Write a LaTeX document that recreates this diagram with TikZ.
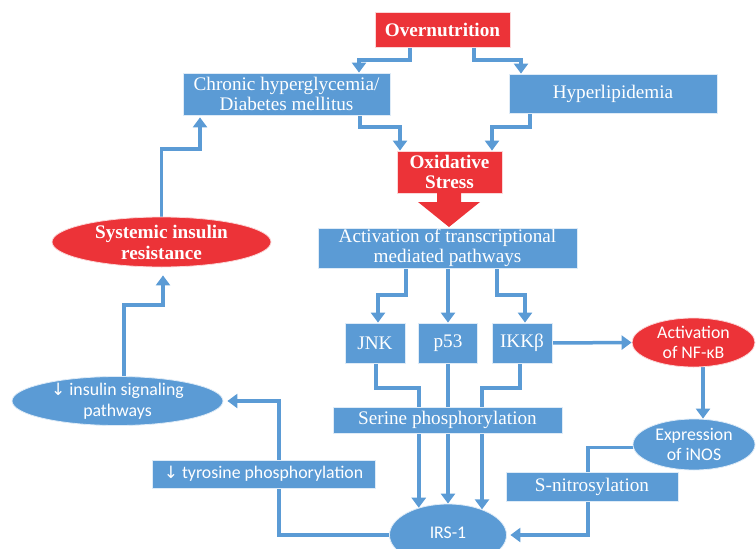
\documentclass[tikz,border=0pt]{standalone}
\usepackage{fontspec}
\setmainfont{Liberation Serif}
\newfontfamily\sansf{Carlito}
\newfontfamily\arrf{DejaVu Sans}
\usetikzlibrary{shapes.geometric,arrows.meta,calc,backgrounds}
\definecolor{bl}{HTML}{5B9BD5}
\definecolor{rd}{HTML}{EC3338}
\newcommand{\dnarr}{{\arrf\fontsize{17}{17}\selectfont ↓}}
\begin{document}
\begin{tikzpicture}[x=1pt,y=-1pt,
  box/.style={rectangle, fill=bl, draw=white!80!bl, line width=0.8pt, text=white,
    inner sep=0pt, align=center, font=\fontsize{19.2}{19.5}\selectfont},
  rbox/.style={box, fill=rd, draw=white!80!rd, font=\bfseries\fontsize{19.2}{20.7}\selectfont},
  ell/.style={ellipse, fill=bl, draw=white!80!bl, line width=0.8pt, inner sep=0pt},
  rell/.style={ell, fill=rd, draw=white!80!rd},
  elltxt/.style={text=white, align=center, inner sep=0pt, font=\sansf\fontsize{17.8}{20.7}\selectfont},
  relltxt/.style={text=white, align=center, inner sep=0pt, font=\bfseries\fontsize{19.2}{21}\selectfont},
  arr/.style={draw=bl, line width=3.5pt, -{Triangle[width=14pt,length=10pt]}}]
\useasboundingbox (0,0) rectangle (756,549);
\clip (0,0) rectangle (756,549);

% nodes
\node[rbox, minimum width=135pt, minimum height=35pt] (ov) at (442.5,29.5) {Overnutrition};
\node[box, minimum width=207pt, minimum height=42pt] (ch) at (286.5,94) {Chronic hyperglycemia/\\Diabetes mellitus};
\node[box, minimum width=208pt, minimum height=39pt] (hy) at (613,93.5) {Hyperlipidemia};
\node[rbox, minimum width=105pt, minimum height=42pt] (ox) at (449.5,172) {Oxidative\\Stress};
\node[box, minimum width=259pt, minimum height=40pt] (ac) at (447.5,248) {Activation of transcriptional\\mediated pathways};
\node[box, minimum width=60pt, minimum height=40pt] (jnk) at (375,343) {JNK};
\node[box, minimum width=59pt, minimum height=40pt] (p53) at (448,343) {p53};
\node[box, minimum width=60pt, minimum height=40pt] (ikk) at (522,343) {IKKβ};
\node[rell, minimum width=123pt, minimum height=49pt,
  label={[elltxt]center:{Activation\\of NF-κB}}] (nf) at (693.5,342.5) {};
\node[box, minimum width=229pt, minimum height=26pt] (se) at (447.5,420) {Serine phosphorylation};
\node[ell, minimum width=122pt, minimum height=51pt,
  label={[elltxt]center:{Expression\\of iNOS}}] (inos) at (694,444.5) {};
\node[box, minimum width=172pt, minimum height=29pt] (sn) at (592,486.5) {S-nitrosylation};
\node[ell, minimum width=117pt, minimum height=62pt,
  label={[elltxt, yshift=2pt]center:{IRS-1}}] (irs) at (448,535) {};
\node[box, font=\sansf\fontsize{17.8}{19}\selectfont, minimum width=223pt, minimum height=28pt] (ty) at (263.5,474) {\dnarr\ tyrosine phosphorylation};
\node[ell, minimum width=211pt, minimum height=49pt,
  label={[elltxt]center:{\dnarr\ insulin signaling\\pathways}}] (ins) at (117.5,401) {};
\node[rell, minimum width=219pt, minimum height=50pt,
  label={[relltxt]center:{Systemic insulin\\resistance}}] (sys) at (161.5,242) {};

% big red arrow
\fill[rd] (437,193) -- (461,193) -- (461,202) -- (480,202) -- (449,227) -- (418,202) -- (437,202) -- cycle;

% connectors
\begin{scope}[on background layer]
\draw[arr] (ov.south -| 410,0) -- (410,60) -| (ch.north -| 359,0);
\draw[arr] (ov.south -| 474,0) -- (474,60) -| (hy.north -| 521,0);
\draw[arr] (ch.south -| 360,0) -- (360,127) -| (ox.north -| 400,0);
\draw[arr] (hy.south -| 530,0) -- (530,127) -| (ox.north -| 492,0);
\draw[arr] (ac.south -| 406,0) -- (406,295) -| (jnk.north -| 378,0);
\draw[arr] (ac.south -| 448,0) -- (p53.north);
\draw[arr] (ac.south -| 497,0) -- (497,295) -| (ikk.north -| 525,0);
\draw[arr] (ikk.east) -- (nf.west);
\draw[arr] (nf.south -| 703,0) -- (inos.north -| 703,0);
\draw[arr] (jnk.south -| 376,0) -- (376,388) -| (irs.137.1);
\draw[arr] (p53.south) -- (irs.north);
\draw[arr] (ikk.south -| 520,0) -- (520,388) -| (irs.37.8);
\draw[arr] ([yshift=-3pt]inos.west) -| (588,535) -- ([xshift=3.5pt]irs.east);
\draw[arr] (irs.west) -| (279,401) -- ([xshift=4pt]ins.east);
\draw[arr] (ins.north -| 124,0) -- (124,305) -| ($(sys.south)+(1.5,8)$);
\draw[arr] (sys.north) |- (200,149) -- ($(ch.south -| 200,0)+(0,2)$);
\end{scope}
\end{tikzpicture}
\end{document}
